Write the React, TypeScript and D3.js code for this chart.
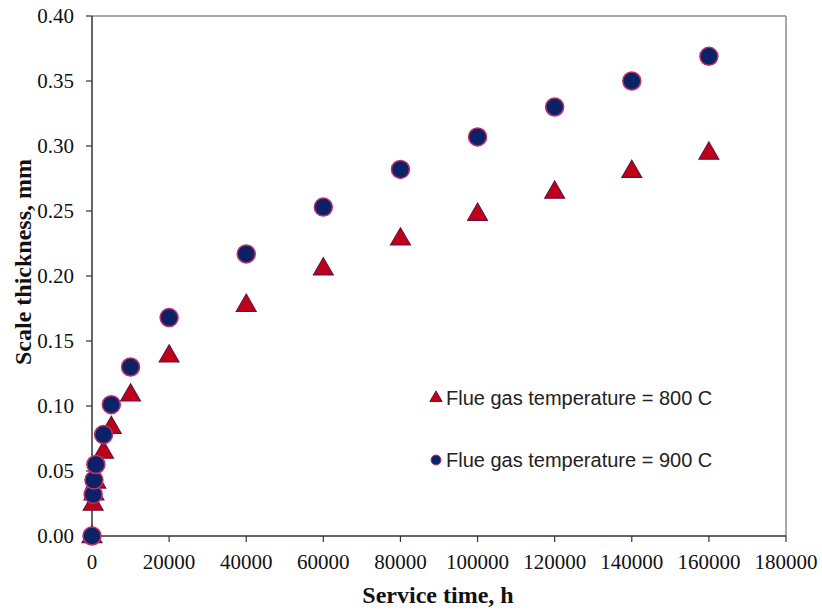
import React from "react";
import * as d3 from "d3";

const time800 = [0, 300, 500, 1000, 3000, 5000, 10000, 20000, 40000, 60000, 80000, 100000, 120000, 140000, 160000];
const scale800 = [0, 0.025, 0.033, 0.042, 0.065, 0.084, 0.109, 0.139, 0.178, 0.206, 0.229, 0.248, 0.265, 0.281, 0.295];
const time900 = [0, 300, 500, 1000, 3000, 5000, 10000, 20000, 40000, 60000, 80000, 100000, 120000, 140000, 160000];
const scale900 = [0, 0.032, 0.043, 0.055, 0.078, 0.101, 0.130, 0.168, 0.217, 0.253, 0.282, 0.307, 0.330, 0.350, 0.369];
const xTicks = [0, 20000, 40000, 60000, 80000, 100000, 120000, 140000, 160000, 180000];
const yTicks = [0, 0.05, 0.1, 0.15, 0.2, 0.25, 0.3, 0.35, 0.4];
const legendLabels = ["Flue gas temperature = 800 C", "Flue gas temperature = 900 C"];

const W = 822, H = 613;
const L = 92, R = 786, T = 16, B = 536;

export default function App() {
  const x = d3.scaleLinear().domain([0, 180000]).range([L, R]);
  const y = d3.scaleLinear().domain([0, 0.4]).range([B, T]);
  const tri = d3.symbol().type(d3.symbolTriangle).size(170)();
  const triSmall = d3.symbol().type(d3.symbolTriangle).size(65)();
  const serif = "'Liberation Serif', 'Times New Roman', serif";
  const sans = "'Liberation Sans', Arial, sans-serif";
  return (
    <svg width={W} height={H} style={{ position: "absolute", left: 0, top: 0, background: "#fff" }}>
      <rect x={0} y={0} width={W} height={H} fill="#fff" />
      <line x1={L} x2={R} y1={T} y2={T} stroke="#8c8c8c" strokeWidth={1.5} />
      <line x1={R} x2={R} y1={T} y2={B} stroke="#8c8c8c" strokeWidth={1.5} />
      <line x1={L} x2={L} y1={T} y2={B} stroke="#333" strokeWidth={1.5} />
      <line x1={L} x2={R} y1={B} y2={B} stroke="#333" strokeWidth={1.5} />
      {yTicks.map((t) => (
        <g key={"y" + t}>
          <line x1={L - 6} x2={L} y1={y(t)} y2={y(t)} stroke="#333" strokeWidth={1.2} />
          <text x={74} y={y(t)} dy="0.33em" textAnchor="end" fontFamily={serif} fontSize={21} fill="#111">
            {t.toFixed(2)}
          </text>
        </g>
      ))}
      {xTicks.map((t) => (
        <g key={"x" + t}>
          <line x1={x(t)} x2={x(t)} y1={B} y2={B + 6} stroke="#333" strokeWidth={1.2} />
          <text x={x(t)} y={569} textAnchor="middle" fontFamily={serif} fontSize={21} fill="#111">
            {t}
          </text>
        </g>
      ))}
      <text x={438} y={603} textAnchor="middle" fontFamily={serif} fontSize={24} fontWeight="bold" fill="#111">
        Service time, h
      </text>
      <text transform={`translate(31,262) rotate(-90)`} textAnchor="middle" fontFamily={serif} fontSize={24} fontWeight="bold" fill="#111">
        Scale thickness, mm
      </text>
      {time800.map((t, i) => (
        <path key={"t" + i} d={tri} transform={`translate(${x(t)},${y(scale800[i]) + 1})`} fill="#c00018" stroke="#6a1040" strokeWidth={1.2} />
      ))}
      {time900.map((t, i) => (
        <circle key={"c" + i} cx={x(t)} cy={y(scale900[i])} r={9} fill="#0b2366" stroke="#c0306a" strokeWidth={1.5} />
      ))}
      <path d={triSmall} transform={`translate(436,398)`} fill="#c00018" stroke="#6a1040" strokeWidth={1} />
      <text x={446} y={398} dy="0.35em" fontFamily={sans} fontSize={20} fill="#222">{legendLabels[0]}</text>
      <circle cx={436} cy={460} r={5} fill="#0b2366" stroke="#c0306a" strokeWidth={1} />
      <text x={446} y={460} dy="0.35em" fontFamily={sans} fontSize={20} fill="#222">{legendLabels[1]}</text>
    </svg>
  );
}
